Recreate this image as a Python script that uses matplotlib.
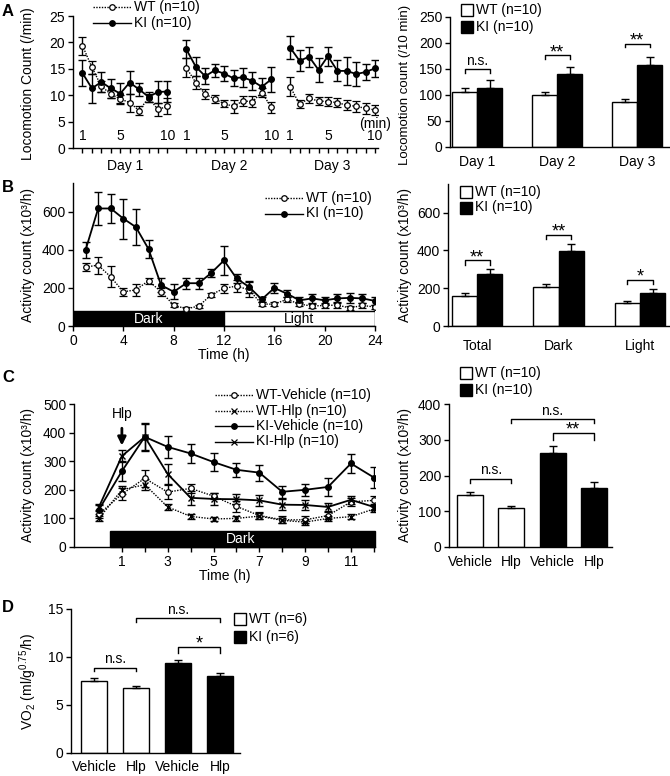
import matplotlib
matplotlib.use("Agg")
import matplotlib.pyplot as plt
from matplotlib.patches import Rectangle
import numpy as np

plt.rcParams['font.family'] = ['Liberation Sans', 'DejaVu Sans']
plt.rcParams['mathtext.fontset'] = 'custom'
plt.rcParams['mathtext.rm'] = 'Liberation Sans'
plt.rcParams['mathtext.it'] = 'Liberation Sans:italic'
plt.rcParams['font.size'] = 9
plt.rcParams['axes.linewidth'] = 1.0
plt.rcParams['xtick.major.width'] = 1.0
plt.rcParams['ytick.major.width'] = 1.0

# ---------------- DATA ----------------
# Panel A (left): locomotion count per minute, 3 days x 10 min
minutes = [1, 2, 3, 4, 5, 6, 7, 8, 9, 10]
day_names = ["Day 1", "Day 2", "Day 3"]
a_wt = [[19.4, 15.3, 11.7, 10.2, 9.3, 8.6, 7.1, 9.5, 7.3, 7.9],
        [15.2, 12.4, 10.2, 9.3, 8.4, 7.9, 8.9, 8.8, 10.5, 7.7],
        [11.6, 8.3, 9.4, 8.9, 8.8, 8.6, 8.1, 7.9, 7.5, 7.2]]
a_wt_err = [[1.7, 1.2, 1.0, 0.8, 0.8, 1.7, 0.8, 0.8, 1.2, 1.5],
            [1.8, 1.2, 1.0, 0.8, 0.7, 1.2, 1.0, 1.0, 0.9, 1.0],
            [1.8, 0.7, 0.9, 0.8, 0.9, 0.9, 0.9, 1.0, 1.1, 1.0]]
a_ki = [[14.2, 11.3, 12.5, 11.3, 10.3, 12.4, 11.1, 9.7, 10.6, 10.7],
        [18.7, 15.4, 13.6, 14.7, 14.1, 13.2, 13.4, 12.7, 11.6, 13.0],
        [19.0, 16.5, 17.3, 14.8, 17.4, 14.6, 14.6, 14.0, 14.4, 15.1]]
a_ki_err = [[2.5, 2.8, 1.8, 1.8, 2.0, 2.2, 1.3, 1.0, 2.1, 2.0],
            [1.7, 1.8, 1.5, 1.3, 1.5, 1.5, 1.8, 1.7, 1.6, 2.3],
            [2.2, 2.0, 1.9, 2.3, 1.8, 2.0, 2.6, 2.3, 1.6, 1.6]]

# Panel A (right): locomotion count /10 min
a_bar_wt = [106, 100, 86]
a_bar_wt_err = [8, 6, 7]
a_bar_ki = [114, 140, 158]
a_bar_ki_err = [15, 13, 16]
a_sig = ["n.s.", "**", "**"]
a_sig_y = [150, 176, 199]

# Panel B (left): activity count per hour over 24 h
b_hours = list(range(1, 25))
b_wt = [310, 320, 258, 180, 190, 238, 180, 110, 90, 105, 165, 198,
        210, 190, 115, 115, 140, 115, 105, 108, 110, 95, 108, 100]
b_wt_err = [20, 45, 55, 20, 30, 15, 20, 12, 10, 8, 10, 25,
            30, 40, 12, 12, 15, 12, 12, 15, 15, 10, 15, 10]
b_ki = [400, 618, 618, 565, 520, 405, 215, 180, 225, 225, 280, 345,
        250, 205, 140, 200, 170, 135, 145, 135, 145, 148, 145, 132]
b_ki_err = [40, 85, 75, 105, 95, 45, 35, 40, 30, 30, 20, 75,
            25, 30, 15, 25, 20, 15, 25, 20, 25, 25, 25, 20]

# Panel B (right)
b_cats = ["Total", "Dark", "Light"]
b_bar_wt = [160, 205, 122]
b_bar_wt_err = [15, 15, 12]
b_bar_ki = [275, 398, 175]
b_bar_ki_err = [25, 38, 20]
b_sig = ["**", "**", "*"]
b_sig_y = [347, 482, 242]

# Panel C (left): activity after injection
c_hours = [0, 1, 2, 3, 4, 5, 6, 7, 8, 9, 10, 11, 12]
c_wt_veh = [115, 185, 240, 192, 205, 178, 142, 110, 95, 95, 110, 158, 163]
c_wt_veh_err = [12, 20, 30, 25, 15, 10, 18, 12, 12, 12, 12, 15, 15]
c_wt_hlp = [100, 200, 218, 140, 107, 98, 100, 108, 93, 87, 100, 106, 133]
c_wt_hlp_err = [8, 15, 20, 10, 10, 6, 8, 10, 8, 10, 10, 8, 10]
c_ki_veh = [131, 265, 385, 350, 327, 297, 270, 260, 193, 200, 210, 292, 243]
c_ki_veh_err = [15, 35, 45, 38, 33, 30, 25, 28, 20, 20, 30, 32, 35]
c_ki_hlp = [140, 318, 385, 255, 172, 168, 167, 163, 148, 147, 140, 165, 140]
c_ki_hlp_err = [10, 20, 50, 35, 25, 22, 18, 18, 20, 18, 15, 15, 12]

# Panel C (right)
treat_labels = ["Vehicle", "Hlp", "Vehicle", "Hlp"]
c_bar = [145, 108, 263, 165]
c_bar_err = [10, 6, 20, 18]

# Panel D: VO2
d_bar = [7.55, 6.8, 9.35, 8.05]
d_bar_err = [0.25, 0.2, 0.3, 0.3]

# ---------------- FIGURE ----------------
W, H = 670, 776
fig = plt.figure(figsize=(W / 100, H / 100), dpi=100)


def ax_px(l, t, r, b):
    ax = fig.add_axes([l / W, 1 - b / H, (r - l) / W, (b - t) / H])
    ax.spines['top'].set_visible(False)
    ax.spines['right'].set_visible(False)
    ax.tick_params(direction='out', length=3.5, labelsize=10, pad=2)
    return ax


ov = fig.add_axes([0, 0, 1, 1], zorder=10)
ov.set_xlim(0, W)
ov.set_ylim(H, 0)
ov.axis('off')
ov.patch.set_alpha(0)


def bracket(ax, x1, x2, y, h, txt):
    ax.plot([x1, x1, x2, x2], [y - h, y, y, y - h], color='k', lw=1, clip_on=False)
    if '*' in txt:
        ax.annotate(txt, xy=((x1 + x2) / 2, y), xytext=(0, -4), textcoords='offset points',
                    ha='center', va='bottom', fontsize=13, annotation_clip=False)
    else:
        ax.annotate(txt, xy=((x1 + x2) / 2, y), xytext=(0, 1), textcoords='offset points',
                    ha='center', va='bottom', fontsize=10, annotation_clip=False)


def line_legend(x, y, items):
    # items: (label, linestyle, marker, mfc)
    for i, (lab, ls, mk, mfc) in enumerate(items):
        yy = y + i * 15.5
        ov.plot([x, x + 38], [yy, yy], color='k', ls=ls, lw=1)
        ov.plot([x + 19], [yy], marker=mk, color='k', mfc=mfc, ms=4, mew=0.9)
        ov.text(x + 41, yy, lab, va='center', ha='left', fontsize=10)


def box_legend(x, y, items, dy=16):
    for i, (lab, fc) in enumerate(items):
        yy = y + i * dy
        ov.add_patch(Rectangle((x, yy - 6), 12, 12, facecolor=fc, edgecolor='k', lw=1))
        ov.text(x + 15, yy, lab, va='center', ha='left', fontsize=10)


dotted = (0, (1, 1))
ebkw = dict(capsize=3, elinewidth=1, capthick=1, ecolor='k')

# ---- Panel A left ----
axA = ax_px(73, 16, 378, 148)
axA.set_xlim(0, 32.3)
axA.set_ylim(0, 25)
axA.set_yticks([0, 5, 10, 15, 20, 25])
pos_all = []
for d in range(3):
    pos = [d * 11 + m for m in minutes]
    pos_all += pos
    axA.errorbar(pos, a_wt[d], yerr=a_wt_err[d], color='k', ls=dotted, lw=1,
                 marker='o', mfc='white', ms=4, mew=0.9, **ebkw)
    axA.errorbar(pos, a_ki[d], yerr=a_ki_err[d], color='k', ls='-', lw=1.3,
                 marker='o', mfc='k', ms=4, **ebkw)
    for m in [1, 5, 10]:
        axA.text(d * 11 + m, 0.9, str(m), ha='center', va='bottom', fontsize=10)
    axA.text(d * 11 + 5.5, -2.0, day_names[d], ha='center', va='top', fontsize=10)
axA.set_xticks(pos_all)
axA.set_xticklabels([])
axA.text(32, 3.3, "(min)", ha='center', va='bottom', fontsize=10)
line_legend(93, 7, [("WT (n=10)", dotted, 'o', 'white'), ("KI (n=10)", '-', 'o', 'k')])

bw = 0.31
# ---- Panel A right ----
axAr = ax_px(450, 17, 670, 147)
xs = np.arange(3)
axAr.bar(xs - bw / 2, a_bar_wt, bw, color='white', edgecolor='k', lw=1)
axAr.bar(xs + bw / 2, a_bar_ki, bw, color='k', edgecolor='k', lw=1)
axAr.errorbar(xs - bw / 2, a_bar_wt, yerr=[[0] * 3, a_bar_wt_err], fmt='none', **ebkw)
axAr.errorbar(xs + bw / 2, a_bar_ki, yerr=[[0] * 3, a_bar_ki_err], fmt='none', **ebkw)
axAr.set_xlim(-0.34, 2.41)
axAr.set_ylim(0, 250)
axAr.set_yticks([0, 50, 100, 150, 200, 250])
axAr.set_xticks(xs)
axAr.set_xticklabels(day_names)
axAr.tick_params(axis='x', length=0, pad=6)
for i in range(3):
    bracket(axAr, i - bw / 2, i + bw / 2, a_sig_y[i], 7, a_sig[i])
box_legend(461, 10, [("WT (n=10)", 'white'), ("KI (n=10)", 'k')], dy=17)

# ---- Panel B left ----
axB = ax_px(73, 183, 375, 326)
axB.set_xlim(0, 24)
axB.set_ylim(0, 752)
axB.set_yticks([0, 200, 400, 600])
axB.set_xticks([0, 4, 8, 12, 16, 20, 24])
axB.add_patch(Rectangle((0, 0), 12, 78, facecolor='k', edgecolor='k', lw=1))
axB.add_patch(Rectangle((12, 0), 12, 78, facecolor='white', edgecolor='k', lw=1))
axB.text(6, 39, "Dark", color='white', ha='center', va='center', fontsize=10)
axB.text(18, 39, "Light", color='k', ha='center', va='center', fontsize=10)
axB.errorbar(b_hours, b_wt, yerr=b_wt_err, color='k', ls=dotted, lw=1,
             marker='o', mfc='white', ms=4, mew=0.9, **ebkw)
axB.errorbar(b_hours, b_ki, yerr=b_ki_err, color='k', ls='-', lw=1.3,
             marker='o', mfc='k', ms=4, **ebkw)
axB.set_xlabel("Time (h)", fontsize=10, labelpad=0)
line_legend(265, 198, [("WT (n=10)", dotted, 'o', 'white'), ("KI (n=10)", '-', 'o', 'k')])

# ---- Panel B right ----
axBr = ax_px(448, 184, 670, 326)
axBr.bar(xs - bw / 2, b_bar_wt, bw, color='white', edgecolor='k', lw=1)
axBr.bar(xs + bw / 2, b_bar_ki, bw, color='k', edgecolor='k', lw=1)
axBr.errorbar(xs - bw / 2, b_bar_wt, yerr=[[0] * 3, b_bar_wt_err], fmt='none', **ebkw)
axBr.errorbar(xs + bw / 2, b_bar_ki, yerr=[[0] * 3, b_bar_ki_err], fmt='none', **ebkw)
axBr.set_xlim(-0.36, 2.37)
axBr.set_ylim(0, 752)
axBr.set_yticks([0, 200, 400, 600])
axBr.set_xticks(xs)
axBr.set_xticklabels(b_cats)
axBr.tick_params(axis='x', length=0, pad=9)
for i in range(3):
    bracket(axBr, i - bw / 2, i + bw / 2, b_sig_y[i], 22, b_sig[i])
box_legend(460, 192, [("WT (n=10)", 'white'), ("KI (n=10)", 'k')], dy=15.5)

# ---- Panel C left ----
axC = ax_px(74, 404, 375, 547)
axC.set_xlim(-1.09, 12.05)
axC.set_ylim(0, 500)
axC.set_yticks([0, 100, 200, 300, 400, 500])
axC.set_xticks(range(1, 13))
axC.set_xticklabels([str(h) if h % 2 == 1 else "" for h in range(1, 13)])
axC.add_patch(Rectangle((0.5, 0), 11.55, 56, facecolor='k', edgecolor='k', lw=1, clip_on=False))
axC.text(6.2, 28, "Dark", color='white', ha='center', va='center', fontsize=10)
axC.errorbar(c_hours, c_wt_veh, yerr=c_wt_veh_err, color='k', ls=dotted, lw=1,
             marker='o', mfc='white', ms=4, mew=0.9, **ebkw)
axC.errorbar(c_hours, c_wt_hlp, yerr=c_wt_hlp_err, color='k', ls=dotted, lw=1,
             marker='x', ms=5, mew=1, **ebkw)
axC.errorbar(c_hours, c_ki_veh, yerr=c_ki_veh_err, color='k', ls='-', lw=1.3,
             marker='o', mfc='k', ms=4, **ebkw)
axC.errorbar(c_hours, c_ki_hlp, yerr=c_ki_hlp_err, color='k', ls='-', lw=1.3,
             marker='x', ms=5, mew=1, **ebkw)
axC.annotate("", xy=(1, 345), xytext=(1, 425),
             arrowprops=dict(arrowstyle='-|>', color='k', lw=2, mutation_scale=12))
axC.text(1, 440, "Hlp", ha='center', va='bottom', fontsize=10)
axC.set_xlabel("Time (h)", fontsize=10, labelpad=0)
line_legend(215, 395, [("WT-Vehicle (n=10)", dotted, 'o', 'white'),
                       ("WT-Hlp (n=10)", dotted, 'x', 'k'),
                       ("KI-Vehicle (n=10)", '-', 'o', 'k'),
                       ("KI-Hlp (n=10)", '-', 'x', 'k')])

# ---- Panel C right ----
bw4 = 0.63
x4 = np.arange(4)
fc4 = ['white', 'white', 'k', 'k']
axCr = ax_px(449, 404, 612, 547)
axCr.bar(x4, c_bar, bw4, color=fc4, edgecolor='k', lw=1)
axCr.errorbar(x4, c_bar, yerr=[[0] * 4, c_bar_err], fmt='none', **ebkw)
axCr.set_xlim(-0.51, 3.44)
axCr.set_ylim(0, 400)
axCr.set_yticks([0, 100, 200, 300, 400])
axCr.set_xticks(x4)
axCr.set_xticklabels(treat_labels)
axCr.tick_params(axis='x', length=0, pad=6)
bracket(axCr, 0, 1, 191, 12, "n.s.")
bracket(axCr, 2, 3, 320, 20, "**")
bracket(axCr, 1, 3, 358, 12, "n.s.")
box_legend(460, 373, [("WT (n=10)", 'white'), ("KI (n=10)", 'k')], dy=17)

# ---- Panel D ----
axD = ax_px(71, 609, 240, 753)
axD.bar(x4, d_bar, bw4, color=fc4, edgecolor='k', lw=1)
axD.errorbar(x4, d_bar, yerr=[[0] * 4, d_bar_err], fmt='none', **ebkw)
axD.set_xlim(-0.55, 3.48)
axD.set_ylim(0, 15)
axD.set_yticks([0, 5, 10, 15])
axD.set_xticks(x4)
axD.set_xticklabels(treat_labels)
axD.tick_params(axis='x', length=0, pad=5)
bracket(axD, 0, 1, 8.9, 0.4, "n.s.")
bracket(axD, 2, 3, 11.0, 0.6, "*")
bracket(axD, 1, 3, 14.05, 0.4, "n.s.")
box_legend(234, 619, [("WT (n=6)", 'white'), ("KI (n=6)", 'k')], dy=18)

# ---- y labels & panel letters ----
ov.text(28, 84, "Locomotion Count (/min)", rotation=90, ha='center', va='center', fontsize=10)
ov.text(405, 85, "Locomotion count (/10 min)", rotation=90, ha='center', va='center', fontsize=9.5)
ov.text(28, 255, "Activity count (x10³/h)", rotation=90, ha='center', va='center', fontsize=10)
ov.text(405, 255, "Activity count (x10³/h)", rotation=90, ha='center', va='center', fontsize=10)
ov.text(28, 475, "Activity count (x10³/h)", rotation=90, ha='center', va='center', fontsize=10)
ov.text(405, 475, "Activity count (x10³/h)", rotation=90, ha='center', va='center', fontsize=10)
ov.text(28, 681, r"VO$_2$ (ml/g$^{0.75}$/h)", rotation=90, ha='center', va='center', fontsize=10)
for lab, (x, y) in zip("ABCD", [(8, 12), (8, 188), (8, 377), (8, 608)]):
    ov.text(x, y, lab, fontsize=12, fontweight='bold', ha='center', va='center')

fig.savefig("out.png", dpi=100)
